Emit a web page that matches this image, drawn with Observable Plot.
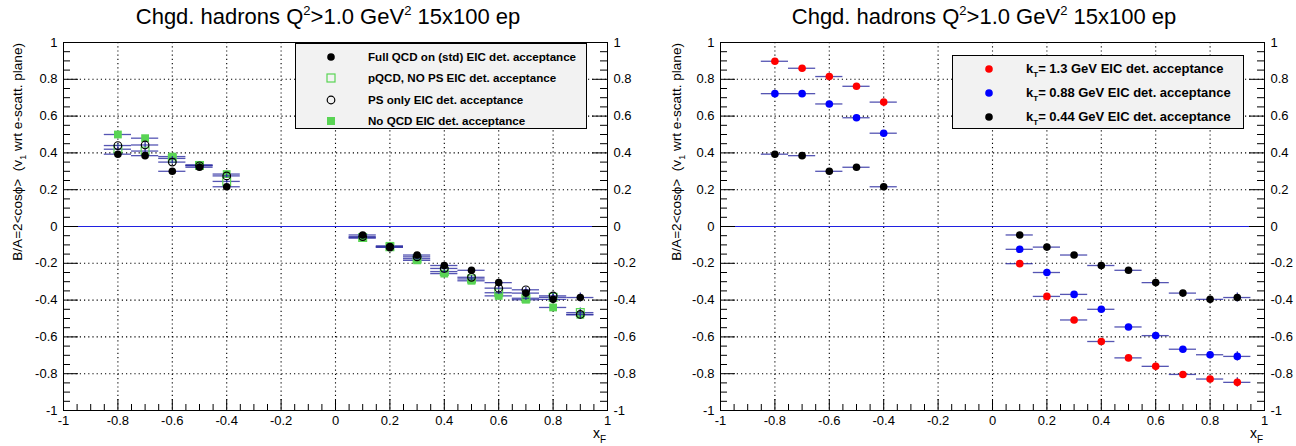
<!DOCTYPE html>
<html>
<head>
<meta charset="utf-8">
<script src="https://cdn.jsdelivr.net/npm/d3@7"></script>
<script src="https://cdn.jsdelivr.net/npm/@observablehq/plot@0.6"></script>
<style>
  body { margin: 0; background: #fff; font-family: "Liberation Sans", Arial, Helvetica, sans-serif; }
  #wrap { position: relative; width: 1296px; height: 446px; display: flex; overflow: hidden; }
  .pad { position: relative; height: 446px; }
  .pad svg { display: block; }
  .title { position: absolute; top: 4px; font-size: 22px; white-space: nowrap; transform: translateX(-50%); line-height: 25px; }
  .title sup { font-size: 13px; vertical-align: 0; position: relative; top: -9px; }
  .ytitle { position: absolute; top: 43px; font-size: 13.6px; line-height: 14px; white-space: nowrap; transform-origin: top right; transform: rotate(-90deg); }
  .ytitle sub { font-size: 9px; vertical-align: 0; position: relative; top: 4px; }
  .xtitle { position: absolute; top: 426px; font-size: 14px; line-height: 14px; white-space: nowrap; }
  .xtitle sub { font-size: 10px; vertical-align: 0; position: relative; top: 5px; }
  .legend { position: absolute; background: #f2f2f2; border: 1px solid #000; box-sizing: border-box; }
  .legend .row { position: absolute; left: 0; right: 0; height: 0; }
  .legend .row svg { position: absolute; top: -6px; }
  .legend .row span { position: absolute; top: -7px; font-weight: bold; white-space: nowrap; line-height: 14px; }
  .legend .row span sub { font-size: 8px; vertical-align: 0; position: relative; top: 4px; }
</style>
</head>
<body>
<div id="wrap">
  <div class="pad" id="padL" style="width:656px"></div>
  <div class="pad" id="padR" style="width:640px"></div>
</div>
<script>
// ---------------- data ----------------
const xBins = [-0.8, -0.7, -0.6, -0.5, -0.4, 0.1, 0.2, 0.3, 0.4, 0.5, 0.6, 0.7, 0.8, 0.9];
const binHalfWidth = 0.05;
const yErr = [0.010, 0.015, 0.010, 0.010, 0.010, 0.006, 0.006, 0.007, 0.008, 0.009, 0.010, 0.012, 0.015, 0.025];

// left panel
const fullQCD = [0.393, 0.385, 0.300, 0.322, 0.216, -0.046, -0.112, -0.155, -0.212, -0.238, -0.305, -0.362, -0.396, -0.386];
const pQCDnoPS = [0.420, 0.410, 0.370, 0.332, 0.245, -0.060, -0.110, -0.175, -0.245, -0.285, -0.360, -0.390, -0.385, -0.468];
const psOnly = [0.440, 0.443, 0.350, 0.330, 0.275, -0.055, -0.112, -0.165, -0.228, -0.276, -0.335, -0.344, -0.377, -0.478];
const noQCD = [0.500, 0.480, 0.380, 0.335, 0.285, -0.063, -0.105, -0.184, -0.256, -0.295, -0.377, -0.398, -0.440, -0.480];

// right panel
const kT130 = [0.898, 0.860, 0.815, 0.762, 0.676, -0.202, -0.380, -0.508, -0.625, -0.714, -0.760, -0.804, -0.829, -0.847];
const kT088 = [0.722, 0.722, 0.666, 0.591, 0.507, -0.124, -0.250, -0.369, -0.450, -0.546, -0.593, -0.667, -0.697, -0.706];
const kT044 = fullQCD;

const axisTicks = [-1, -0.8, -0.6, -0.4, -0.2, 0, 0.2, 0.4, 0.6, 0.8, 1];
const gridTicks = [-0.8, -0.6, -0.4, -0.2, 0, 0.2, 0.4, 0.6, 0.8];
const minorTicks = d3.range(-20, 21).map(i => +(i * 0.05).toFixed(2)).filter(v => !axisTicks.includes(v));

const titleText = 'Chgd. hadrons Q<sup>2</sup>&gt;1.0 GeV<sup>2</sup> 15x100 ep';
const yTitleText = 'B/A=2&lt;cos&#981;&gt;&nbsp;&nbsp;(v<sub>1</sub> wrt e-scatt. plane)';

const leftSeries = [
  {name: "No QCD EIC det. acceptance", values: noQCD, symbol: "square", fill: "#59d454", stroke: "none"},
  {name: "pQCD, NO PS EIC det. acceptance", values: pQCDnoPS, symbol: "square", fill: "none", stroke: "#59d454"},
  {name: "PS only EIC det. acceptance", values: psOnly, symbol: "circle", fill: "none", stroke: "#000"},
  {name: "Full QCD on (std) EIC det. acceptance", values: fullQCD, symbol: "circle", fill: "#000", stroke: "none"}
];
const leftLegendOrder = [3, 1, 2, 0];

const rightSeries = [
  {name: "k<sub>T</sub>= 1.3 GeV EIC det. acceptance", values: kT130, symbol: "circle", fill: "#ff0000", stroke: "none"},
  {name: "k<sub>T</sub>= 0.88 GeV EIC det. acceptance", values: kT088, symbol: "circle", fill: "#0000ff", stroke: "none"},
  {name: "k<sub>T</sub>= 0.44 GeV EIC det. acceptance", values: kT044, symbol: "circle", fill: "#000", stroke: "none"}
];
const rightLegendOrder = [0, 1, 2];

// ---------------- drawing ----------------
const H = 446, mT = 42, mB = 36;
const fmt = d => String(+d.toFixed(1));

function rowsOf(values) {
  return xBins.map((x, i) => ({x, y: values[i], e: yErr[i]}));
}

function seriesMarks(s) {
  const data = rowsOf(s.values);
  const r = s.symbol === "square" ? 4.4 : 3.8;
  return [
    Plot.ruleY(data, {y: "y", x1: d => d.x - binHalfWidth, x2: d => d.x + binHalfWidth, stroke: "#2a2aa0", strokeWidth: 1.3, strokeOpacity: 0.8}),
    Plot.ruleX(data, {x: "x", y1: d => d.y - d.e, y2: d => d.y + d.e, stroke: "#2a2aa0", strokeWidth: 1.2}),
    Plot.dot(data, {x: "x", y: "y", r, symbol: s.symbol, fill: s.fill, stroke: s.stroke, strokeWidth: 1.2})
  ];
}

function panel(width, mL, mR, series) {
  const fW = width - mL - mR, fH = H - mT - mB;
  return Plot.plot({
    width, height: H, marginTop: mT, marginBottom: mB, marginLeft: mL, marginRight: mR,
    x: {domain: [-1, 1]},
    y: {domain: [-1, 1]},
    style: {fontFamily: '"Liberation Sans", Arial, Helvetica, sans-serif', fontSize: "13px", color: "#000", background: "transparent", overflow: "visible"},
    marks: [
      Plot.ruleX(gridTicks, {x: d => d, stroke: "#000", strokeDasharray: "1.2,3", strokeWidth: 1.1}),
      Plot.ruleY(gridTicks, {y: d => d, stroke: "#000", strokeDasharray: "1.2,3", strokeWidth: 1.1}),
      Plot.ruleY([0], {y: d => d, stroke: "#2020e0", strokeWidth: 1}),
      ...series.flatMap(seriesMarks),
      Plot.frame({stroke: "#000", strokeWidth: 1}),
      Plot.tickY(axisTicks, {y: d => d, insetRight: fW - 15, stroke: "#000"}),
      Plot.tickY(minorTicks, {y: d => d, insetRight: fW - 7, stroke: "#000"}),
      Plot.tickY(axisTicks, {y: d => d, insetLeft: fW - 15, stroke: "#000"}),
      Plot.tickY(minorTicks, {y: d => d, insetLeft: fW - 7, stroke: "#000"}),
      Plot.tickX(axisTicks, {x: d => d, insetTop: fH - 11, stroke: "#000"}),
      Plot.tickX(minorTicks, {x: d => d, insetTop: fH - 6, stroke: "#000"}),
      Plot.axisY(axisTicks, {anchor: "left", tickSize: 0, tickPadding: 6, tickFormat: fmt, label: null}),
      Plot.axisY(axisTicks, {anchor: "right", tickSize: 0, tickPadding: 6, tickFormat: fmt, label: null}),
      Plot.axisX(axisTicks, {anchor: "bottom", tickSize: 0, tickPadding: 5, tickFormat: fmt, label: null})
    ]
  });
}

function marker(s) {
  const ns = "http://www.w3.org/2000/svg";
  const svg = document.createElementNS(ns, "svg");
  svg.setAttribute("width", 12); svg.setAttribute("height", 12);
  let el;
  if (s.symbol === "square") {
    el = document.createElementNS(ns, "rect");
    el.setAttribute("x", 2); el.setAttribute("y", 2); el.setAttribute("width", 8); el.setAttribute("height", 8);
  } else {
    el = document.createElementNS(ns, "circle");
    el.setAttribute("cx", 6); el.setAttribute("cy", 6); el.setAttribute("r", 3.8);
  }
  el.setAttribute("fill", s.fill); el.setAttribute("stroke", s.stroke); el.setAttribute("stroke-width", 1.2);
  svg.appendChild(el);
  return svg;
}

function decorate(pad, opts) {
  const t = document.createElement("div");
  t.className = "title"; t.style.left = opts.titleX + "px"; t.innerHTML = titleText;
  pad.appendChild(t);
  const yt = document.createElement("div");
  yt.className = "ytitle"; yt.style.right = (opts.width - opts.yTitleX) + "px"; yt.innerHTML = yTitleText;
  pad.appendChild(yt);
  const xt = document.createElement("div");
  xt.className = "xtitle"; xt.style.right = (opts.width - opts.xTitleRight) + "px"; xt.innerHTML = "x<sub>F</sub>";
  pad.appendChild(xt);
  const lg = document.createElement("div");
  lg.className = "legend";
  Object.assign(lg.style, {left: opts.lg.left + "px", top: opts.lg.top + "px", width: opts.lg.w + "px", height: opts.lg.h + "px"});
  opts.lg.order.forEach((k, i) => {
    const s = opts.series[k];
    const row = document.createElement("div");
    row.className = "row"; row.style.top = (opts.lg.row0 + i * opts.lg.dy) + "px";
    const m = marker(s); m.style.left = (opts.lg.mx - 6) + "px";
    row.appendChild(m);
    const sp = document.createElement("span");
    sp.style.left = opts.lg.tx + "px"; sp.style.fontSize = opts.lg.fs + "px"; sp.innerHTML = s.name;
    row.appendChild(sp);
    lg.appendChild(row);
  });
  pad.appendChild(lg);
}

const padL = document.getElementById("padL");
padL.appendChild(panel(656, 63, 49, leftSeries));
decorate(padL, {width: 656, titleX: 328, yTitleX: 11, xTitleRight: 606, series: leftSeries,
  lg: {left: 295, top: 43, w: 292, h: 86, row0: 13, dy: 21.3, mx: 35, tx: 72, fs: 11.6, order: leftLegendOrder}});

const padR = document.getElementById("padR");
padR.appendChild(panel(640, 64, 32, rightSeries));
decorate(padR, {width: 640, titleX: 328, yTitleX: 14, xTitleRight: 607, series: rightSeries,
  lg: {left: 296, top: 55, w: 292, h: 74, row0: 13, dy: 24, mx: 36, tx: 73, fs: 13, order: rightLegendOrder}});
</script>
</body>
</html>
